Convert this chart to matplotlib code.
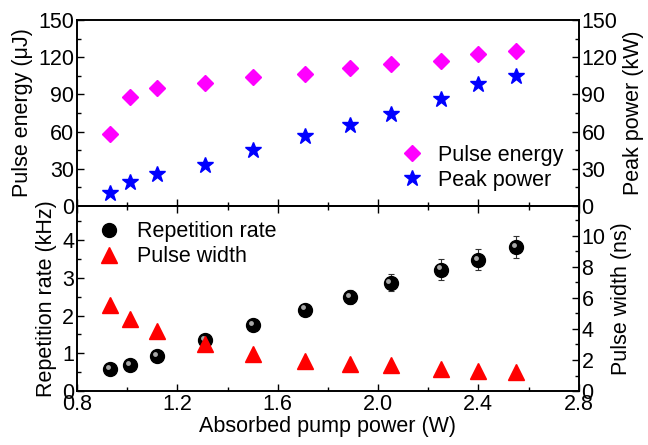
import numpy as np
import matplotlib.pyplot as plt
import matplotlib.transforms as mtransforms
from matplotlib.ticker import MultipleLocator

plt.rcParams['font.family'] = ['Liberation Sans', 'DejaVu Sans']
plt.rcParams['font.size'] = 15.5

# absorbed pump power (W)
pump = [0.93, 1.01, 1.12, 1.31, 1.50, 1.71, 1.89, 2.05, 2.25, 2.40, 2.55]
# pulse energy (uJ) and peak power (kW)
energy = [58.2, 88.3, 95.1, 99.4, 104.2, 106.4, 111.0, 114.5, 117.2, 122.8, 125.0]
peak = [10.8, 19.4, 25.6, 33.4, 45.5, 56.3, 65.4, 74.0, 86.7, 98.6, 104.5]
# repetition rate (kHz) with error, pulse width (ns)
rep = [0.59, 0.69, 0.94, 1.36, 1.76, 2.16, 2.50, 2.87, 3.22, 3.48, 3.82]
rep_err = [0.04, 0.05, 0.05, 0.06, 0.07, 0.10, 0.19, 0.23, 0.27, 0.28, 0.30]
width = [5.53, 4.64, 3.85, 3.01, 2.37, 1.97, 1.77, 1.65, 1.41, 1.32, 1.24]

fig = plt.figure(figsize=(6.48, 4.45), dpi=100)
ax1 = fig.add_axes([0.119, 0.537, 0.774, 0.418])
ax2 = fig.add_axes([0.119, 0.121, 0.774, 0.416], sharex=ax1)
ax1r = ax1.twinx()
ax2r = ax2.twinx()

# top panel
ax1.plot(pump, energy, 'D', color='#ff00ff', ms=8, mec='#ff00ff', label='Pulse energy')
ax1r.plot(pump, peak, '*', color='#0000ff', ms=12, label='Peak power')
ax1.set_ylim(0, 150)
ax1r.set_ylim(0, 150)
ax1.set_ylabel('Pulse energy (\u03bcJ)', labelpad=4)
ax1r.set_ylabel('Peak power (kW)', labelpad=4)
for a in (ax1, ax1r):
    a.yaxis.set_major_locator(MultipleLocator(30))
    a.yaxis.set_minor_locator(MultipleLocator(15))
h1 = ax1.get_legend_handles_labels()[0] + ax1r.get_legend_handles_labels()[0]
l1 = ax1.get_legend_handles_labels()[1] + ax1r.get_legend_handles_labels()[1]
ax1.legend(h1, l1, loc='lower right', frameon=False, handletextpad=0.4,
           borderaxespad=0.3, labelspacing=0.2, handlelength=1.6)

# bottom panel
ax2.errorbar(pump, rep, yerr=rep_err, fmt='none', ecolor='#333333',
             elinewidth=0.8, capsize=2.5, capthick=0.8)
ax2.plot(pump, rep, 'o', color='black', ms=10, label='Repetition rate')
hl = mtransforms.offset_copy(ax2.transData, fig=fig, x=-1.5, y=1.5, units='points')
ax2.plot(pump, rep, 'o', color='#bbbbbb', ms=3.5, mew=0, transform=hl, alpha=0.9)
ax2r.plot(pump, width, '^', color='#ff0000', ms=11, label='Pulse width')
ax2.set_ylim(0, 4.9)
ax2r.set_ylim(0, 11.9)
ax2.set_ylabel('Repetition rate (kHz)', labelpad=4)
ax2r.set_ylabel('Pulse width (ns)', labelpad=4)
ax2.yaxis.set_major_locator(MultipleLocator(1))
ax2.yaxis.set_minor_locator(MultipleLocator(0.5))
ax2r.yaxis.set_major_locator(MultipleLocator(2))
ax2r.yaxis.set_minor_locator(MultipleLocator(1))
h2 = ax2.get_legend_handles_labels()[0][:1] + ax2r.get_legend_handles_labels()[0]
l2 = ['Repetition rate', 'Pulse width']
ax2.legend(h2, l2, loc='upper left', frameon=False, handletextpad=0.5,
           borderaxespad=0.3, labelspacing=0.2, handlelength=1.6)

ax2.set_xlim(0.8, 2.8)
ax2.xaxis.set_major_locator(MultipleLocator(0.4))
ax2.xaxis.set_minor_locator(MultipleLocator(0.2))
ax2.set_xlabel('Absorbed pump power (W)', labelpad=1)
ax2.xaxis.set_major_formatter(plt.FormatStrFormatter('%.1f'))

for a in (ax1, ax2, ax1r, ax2r):
    for s in a.spines.values():
        s.set_linewidth(1.2)
    a.tick_params(which='both', direction='in', width=1.0)
    a.tick_params(which='major', length=5, pad=2)
    a.tick_params(which='minor', length=3)
ax1.tick_params(axis='x', which='both', labelbottom=False, top=False)
ax2.tick_params(axis='x', which='both', top=True)

fig.savefig('out.png', dpi=100)
